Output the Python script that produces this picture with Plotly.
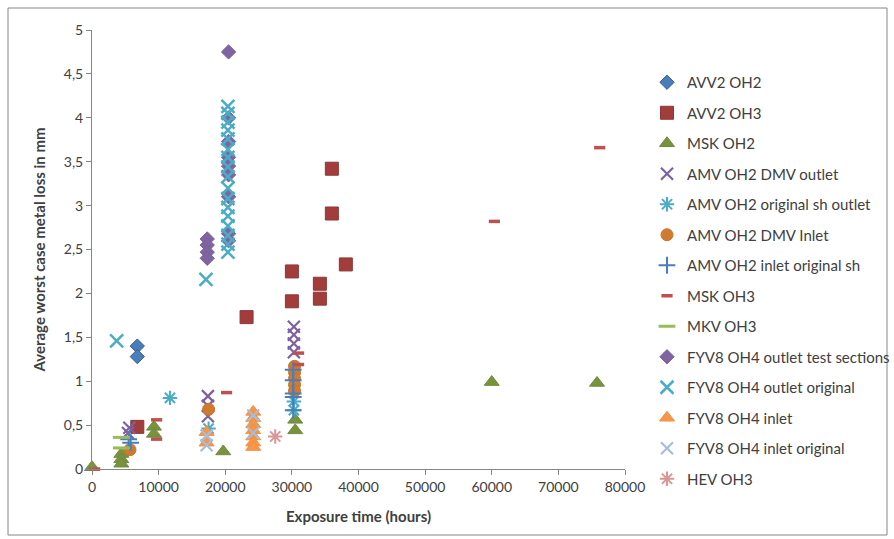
import plotly.graph_objects as go

# ---------------- data ----------------
x_ticks = [0, 10000, 20000, 30000, 40000, 50000, 60000, 70000, 80000]
x_tick_labels = ["0", "10000", "20000", "30000", "40000", "50000", "60000", "70000", "80000"]
y_ticks = [0, 0.5, 1, 1.5, 2, 2.5, 3, 3.5, 4, 4.5, 5]
y_tick_labels = ["0", "0,5", "1", "1,5", "2", "2,5", "3", "3,5", "4", "4,5", "5"]

avv2_oh2_x = [6800, 6800]
avv2_oh2_y = [1.40, 1.28]

avv2_oh3_x = [6800, 23200, 30000, 30000, 34200, 34200, 36000, 36000, 38100]
avv2_oh3_y = [0.48, 1.73, 2.25, 1.91, 2.11, 1.94, 3.42, 2.91, 2.33]

msk_oh2_x = [0, 4400, 4400, 4400, 9300, 9300, 19700, 30500, 30500, 60000, 75800]
msk_oh2_y = [0.02, 0.17, 0.11, 0.06, 0.48, 0.40, 0.20, 0.56, 0.44, 0.99, 0.98]

amv_dmv_out_x = [5600, 5400, 17400, 17400, 17400, 30300, 30300, 30300, 30300]
amv_dmv_out_y = [0.47, 0.41, 0.83, 0.72, 0.60, 1.62, 1.53, 1.43, 1.33]

amv_orig_out_x = [11700, 17500, 30300, 30300]
amv_orig_out_y = [0.81, 0.46, 0.77, 0.67]

amv_dmv_in_x = [5700, 17500, 30400, 30400, 30400, 30400, 30400]
amv_dmv_in_y = [0.22, 0.68, 1.17, 1.10, 1.03, 0.96, 0.89]

amv_in_orig_x = [5500, 5800, 30200, 30200, 30200, 30200, 30200]
amv_in_orig_y = [0.34, 0.30, 1.13, 1.01, 0.86, 0.82, 0.67]

msk_oh3_x = [400, 9700, 9700, 20200, 31000, 31000, 60400, 76200]
msk_oh3_y = [0.0, 0.56, 0.34, 0.87, 1.32, 1.19, 2.82, 3.66]

mkv_oh3_x = [4400, 4400]
mkv_oh3_y = [0.36, 0.24]

fyv8_test_x = [20500, 20500, 20500, 20500, 20500, 20500, 20500, 20500, 20500,
               17300, 17300, 17300, 17300]
fyv8_test_y = [4.75, 4.00, 3.73, 3.55, 3.45, 3.35, 3.10, 2.68, 2.60,
               2.62, 2.55, 2.47, 2.40]

fyv8_out_orig_x = [3700, 17100] + [20400] * 17
fyv8_out_orig_y = [1.46, 2.16, 4.13, 4.05, 3.95, 3.86, 3.76, 3.64, 3.55, 3.44, 3.33,
                   3.20, 3.08, 2.98, 2.88, 2.77, 2.66, 2.56, 2.47]

fyv8_in_x = [17200, 17200, 24200, 24200, 24200, 24200, 24200, 24200, 24200]
fyv8_in_y = [0.42, 0.30, 0.65, 0.58, 0.51, 0.44, 0.37, 0.30, 0.25]

fyv8_in_orig_x = [17200, 17200, 24200, 24200]
fyv8_in_orig_y = [0.38, 0.27, 0.61, 0.41]

hev_oh3_x = [27500]
hev_oh3_y = [0.37]

series = [
    ("AVV2 OH2", avv2_oh2_x, avv2_oh2_y, "diamond", 11, "#4A7EBB", 1, "#385D8A"),
    ("AVV2 OH3", avv2_oh3_x, avv2_oh3_y, "square", 13, "#A33D3B", 1, "#8C3836"),
    ("MSK OH2", msk_oh2_x, msk_oh2_y, "triangle-up", 13, "#77933C", 1, "#71893F"),
    ("AMV OH2 DMV outlet", amv_dmv_out_x, amv_dmv_out_y, "x-thin-open", 12, "#7D60A0", 2.2, "#7D60A0"),
    ("AMV OH2 original sh outlet", amv_orig_out_x, amv_orig_out_y, "asterisk-open", 12, "#4BACC6", 2, "#4BACC6"),
    ("AMV OH2 DMV Inlet", amv_dmv_in_x, amv_dmv_in_y, "circle", 12, "#D07A30", 1, "#C77430"),
    ("AMV OH2 inlet original sh", amv_in_orig_x, amv_in_orig_y, "cross-thin-open", 12, "#4A7EBB", 2, "#4A7EBB"),
    ("MSK OH3", msk_oh3_x, msk_oh3_y, "line-ew-open", 8, "#C0504D", 3.5, "#C0504D"),
    ("MKV OH3", mkv_oh3_x, mkv_oh3_y, "line-ew-open", 12, "#9BBB59", 3, "#9BBB59"),
    ("FYV8 OH4 outlet test sections", fyv8_test_x, fyv8_test_y, "diamond", 11, "#8064A2", 1, "#7A5E9A"),
    ("FYV8 OH4 outlet original", fyv8_out_orig_x, fyv8_out_orig_y, "x-thin-open", 13, "#4BACC6", 2.5, "#4BACC6"),
    ("FYV8 OH4 inlet", fyv8_in_x, fyv8_in_y, "triangle-up", 13, "#F79646", 1, "#F0903F"),
    ("FYV8 OH4 inlet original", fyv8_in_orig_x, fyv8_in_orig_y, "x-thin-open", 12, "#A7BDDB", 2.2, "#A7BDDB"),
    ("HEV OH3", hev_oh3_x, hev_oh3_y, "asterisk-open", 12, "#D99694", 2, "#D99694"),
]

W, H = 894, 539
L, R, T, B = 92, 269, 30, 70
PW, PH = W - L - R, H - T - B

fig = go.Figure()
for name, xs, ys, sym, size, col, lw, lcol in series:
    fig.add_trace(go.Scatter(
        x=xs, y=ys, mode="markers", name=name, legendgroup=name,
        cliponaxis=False,
        marker=dict(symbol=sym, size=size, color=col, line=dict(width=lw, color=lcol)),
    ))

font_family = "Lato, 'Open Sans', sans-serif"
axis_common = dict(
    showline=True, linecolor="#868686", linewidth=1,
    ticks="outside", ticklen=5, tickcolor="#868686",
    showgrid=False, zeroline=False,
    tickfont=dict(size=14, color="#404040", family=font_family),
)

fig.update_layout(
    width=W, height=H,
    margin=dict(l=L, r=R, t=T, b=B, autoexpand=False),
    paper_bgcolor="white", plot_bgcolor="white",
    font=dict(family=font_family, color="#404040"),
    showlegend=True,
    legend=dict(
        x=(647 - L) / PW, xanchor="left",
        y=(H - B - 66) / PH, yanchor="top",
        font=dict(size=15, color="#404040", family=font_family),
        tracegroupgap=8, itemsizing="trace", bgcolor="rgba(0,0,0,0)",
        maxheight=480,
    ),
    xaxis=dict(range=[0, 80000], tickvals=x_ticks, ticktext=x_tick_labels,
               title=dict(text="<b>Exposure time (hours)</b>", standoff=17,
                          font=dict(size=15, color="#404040", family=font_family)),
               **axis_common),
    yaxis=dict(range=[0, 5], tickvals=y_ticks, ticktext=y_tick_labels,
               title=dict(text="<b>Average worst case metal loss in mm</b>", standoff=14,
                          font=dict(size=15, color="#404040", family=font_family)),
               **axis_common),
)

# outer chart border
def px_to_paper_x(p):
    return (p - L) / PW

def px_to_paper_y(p):
    return (H - B - p) / PH

fig.add_shape(type="rect", xref="paper", yref="paper",
              x0=px_to_paper_x(8), x1=px_to_paper_x(887),
              y0=px_to_paper_y(535), y1=px_to_paper_y(8),
              line=dict(color="#868686", width=1), fillcolor="rgba(0,0,0,0)", layer="below")

fig.write_html("out.html")
